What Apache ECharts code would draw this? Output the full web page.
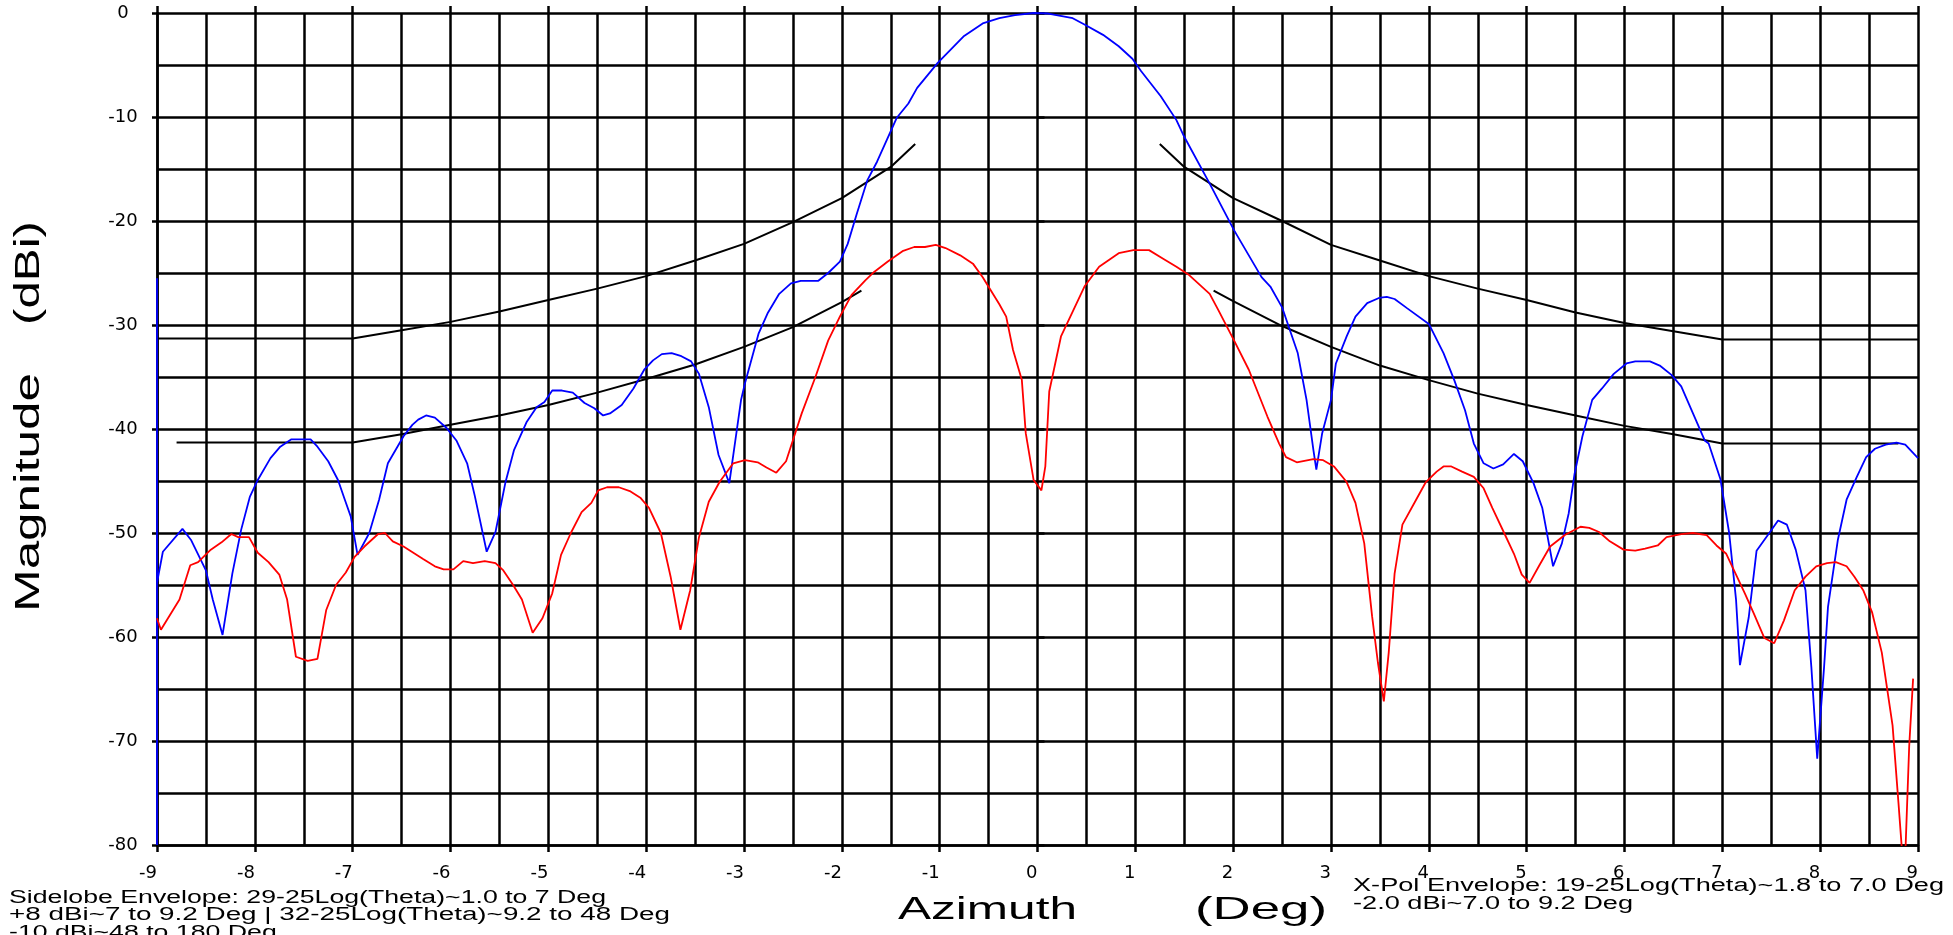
<!DOCTYPE html>
<html>
<head>
<meta charset="utf-8">
<script src="https://cdn.jsdelivr.net/npm/echarts@6/dist/echarts.min.js"></script>
<style>
html,body{margin:0;padding:0;background:#fff;}
#chart{width:1953px;height:935px;}
</style>
</head>
<body>
<div id="chart"></div>
<script>
// ---------------- DATA ----------------
// Co-polar pattern (blue)
const coAz = [-9, -9, -9, -8.94, -8.74, -8.65, -8.50, -8.43, -8.33, -8.23, -8.14, -8.05, -7.97, -7.84, -7.74, -7.63, -7.43, -7.36, -7.25, -7.15, -7.08, -7.02, -6.95, -6.83, -6.73, -6.64, -6.48, -6.39, -6.33, -6.25, -6.16, -6.04, -5.94, -5.83, -5.75, -5.63, -5.54, -5.44, -5.35, -5.22, -5.12, -5.04, -4.96, -4.86, -4.75, -4.63, -4.53, -4.44, -4.37, -4.25, -4.13, -4.02, -3.93, -3.84, -3.74, -3.64, -3.54, -3.46, -3.36, -3.26, -3.15, -3.03, -2.99, -2.85, -2.76, -2.64, -2.52, -2.42, -2.24, -2.14, -2.02, -1.94, -1.85, -1.74, -1.64, -1.54, -1.44, -1.32, -1.23, -1.02, -0.75, -0.56, -0.39, -0.23, -0.04, 0.11, 0.36, 0.48, 0.67, 0.83, 0.97, 1.06, 1.26, 1.42, 1.50, 1.76, 2.01, 2.29, 2.38, 2.50, 2.66, 2.75, 2.82, 2.85, 2.91, 3.00, 3.05, 3.16, 3.25, 3.37, 3.49, 3.57, 3.65, 3.78, 4.00, 4.15, 4.26, 4.37, 4.46, 4.56, 4.66, 4.76, 4.87, 4.96, 5.07, 5.16, 5.27, 5.36, 5.43, 5.49, 5.57, 5.67, 5.77, 5.89, 6.02, 6.11, 6.26, 6.36, 6.48, 6.58, 6.70, 6.82, 6.86, 6.98, 7.07, 7.14, 7.18, 7.27, 7.35, 7.48, 7.57, 7.66, 7.75, 7.85, 7.91, 7.97, 8.04, 8.08, 8.18, 8.27, 8.37, 8.47, 8.56, 8.67, 8.78, 8.87, 9.00];
const coMag = [-80, -25.5, -54.8, -51.8, -49.6, -50.7, -53.6, -56.4, -59.8, -53.9, -49.7, -46.5, -44.9, -42.8, -41.7, -41.0, -41.0, -41.7, -43.1, -44.9, -46.8, -48.4, -52.1, -50.0, -46.8, -43.3, -40.7, -39.6, -39.1, -38.7, -38.9, -39.9, -41.1, -43.3, -46.5, -51.8, -49.9, -45.2, -42.0, -39.3, -37.9, -37.4, -36.3, -36.3, -36.5, -37.5, -38.0, -38.7, -38.5, -37.7, -36.1, -34.3, -33.4, -32.8, -32.7, -33.0, -33.5, -34.7, -37.9, -42.5, -45.2, -37.2, -35.6, -30.8, -28.9, -27.0, -26.0, -25.75, -25.75, -25.0, -23.9, -22.2, -19.4, -16.1, -14.3, -12.2, -10.1, -8.7, -7.2, -4.8, -2.2, -1.0, -0.5, -0.2, 0.0, -0.05, -0.5, -1.1, -2.1, -3.2, -4.4, -5.6, -8.0, -10.3, -11.9, -16.4, -20.9, -25.4, -26.3, -28.3, -32.7, -37.2, -42.0, -43.9, -40.4, -37.2, -33.7, -31.1, -29.2, -27.9, -27.4, -27.3, -27.5, -28.4, -29.9, -32.7, -35.3, -38.2, -41.4, -43.3, -43.8, -43.4, -42.4, -43.1, -45.2, -47.6, -53.2, -51.0, -48.1, -44.3, -40.7, -37.2, -36.1, -34.7, -33.7, -33.5, -33.5, -33.9, -34.8, -35.9, -38.5, -41.1, -41.4, -44.8, -50.0, -56.4, -62.7, -58.1, -51.7, -50.0, -48.8, -49.2, -51.6, -55.5, -62.9, -71.7, -62.9, -57.1, -50.7, -46.8, -44.7, -42.7, -41.9, -41.5, -41.3, -41.5, -42.8];

// Cross-polar pattern (red)
const xpAz = [-9, -8.96, -8.77, -8.66, -8.58, -8.45, -8.34, -8.24, -8.17, -8.06, -7.97, -7.86, -7.75, -7.67, -7.58, -7.46, -7.36, -7.27, -7.17, -7.07, -6.98, -6.88, -6.74, -6.67, -6.59, -6.48, -6.28, -6.16, -6.07, -5.97, -5.87, -5.77, -5.65, -5.54, -5.46, -5.36, -5.27, -5.16, -5.06, -4.96, -4.87, -4.77, -4.66, -4.56, -4.49, -4.40, -4.28, -4.16, -4.06, -3.97, -3.85, -3.75, -3.65, -3.55, -3.46, -3.36, -3.25, -3.11, -2.99, -2.86, -2.77, -2.67, -2.57, -2.49, -2.41, -2.27, -2.14, -2.02, -1.90, -1.76, -1.67, -1.53, -1.38, -1.26, -1.15, -1.04, -0.94, -0.79, -0.66, -0.56, -0.39, -0.32, -0.25, -0.16, -0.12, -0.04, 0.04, 0.08, 0.12, 0.24, 0.35, 0.48, 0.63, 0.83, 0.98, 1.14, 1.28, 1.42, 1.55, 1.76, 1.85, 2.01, 2.16, 2.35, 2.47, 2.54, 2.65, 2.82, 2.92, 3.03, 3.16, 3.25, 3.34, 3.42, 3.48, 3.54, 3.59, 3.65, 3.73, 3.87, 3.97, 4.08, 4.15, 4.23, 4.34, 4.46, 4.56, 4.65, 4.77, 4.87, 4.95, 5.03, 5.13, 5.24, 5.39, 5.55, 5.64, 5.74, 5.85, 5.99, 6.11, 6.21, 6.34, 6.43, 6.58, 6.70, 6.84, 6.94, 7.04, 7.14, 7.23, 7.32, 7.43, 7.53, 7.63, 7.74, 7.85, 7.96, 8.07, 8.16, 8.27, 8.35, 8.44, 8.53, 8.63, 8.74, 8.80, 8.84, 8.87, 8.91, 8.95];
const xpMag = [-58.2, -59.3, -56.4, -53.1, -52.8, -51.6, -50.9, -50.1, -50.4, -50.4, -51.9, -52.8, -54.0, -56.4, -61.9, -62.3, -62.1, -57.4, -55.0, -53.8, -52.3, -51.3, -50.1, -50.0, -50.8, -51.3, -52.5, -53.2, -53.5, -53.5, -52.7, -52.9, -52.7, -52.9, -53.6, -55.0, -56.4, -59.6, -58.2, -55.8, -52.1, -50.0, -48.0, -47.1, -45.9, -45.6, -45.6, -46.0, -46.6, -47.6, -50.0, -54.2, -59.3, -55.5, -50.4, -47.0, -45.1, -43.3, -43.0, -43.2, -43.7, -44.2, -43.1, -40.8, -38.5, -35.0, -31.5, -29.2, -27.1, -25.7, -24.9, -23.9, -22.9, -22.5, -22.5, -22.3, -22.6, -23.3, -24.1, -25.4, -28.0, -29.2, -32.4, -35.3, -40.4, -44.9, -45.9, -43.6, -36.4, -31.1, -28.9, -26.3, -24.4, -23.1, -22.8, -22.8, -23.6, -24.4, -25.2, -27.0, -28.6, -31.5, -34.3, -38.8, -41.4, -42.7, -43.2, -42.9, -43.0, -43.6, -45.1, -47.1, -51.0, -58.0, -62.5, -66.2, -61.5, -53.9, -49.2, -46.8, -45.1, -44.1, -43.6, -43.6, -44.1, -44.6, -45.7, -47.6, -50.0, -52.0, -54.0, -54.8, -53.1, -51.3, -50.2, -49.4, -49.5, -49.9, -50.8, -51.6, -51.7, -51.5, -51.2, -50.4, -50.1, -50.0, -50.2, -51.2, -52.0, -54.0, -55.8, -57.7, -60.1, -60.6, -58.4, -55.5, -54.2, -53.2, -52.9, -52.8, -53.2, -54.2, -55.5, -57.6, -61.5, -68.5, -75.9, -81.0, -81.0, -70.5, -64.0];

// Sidelobe envelope (upper black), left and right parts
const slLeftAz   = [-9, -7, -6.5, -6, -5.5, -5, -4.5, -4, -3.5, -3, -2.5, -2, -1.5, -1.25];
const slLeftMag  = [-31.3, -31.3, -30.5, -29.7, -28.7, -27.6, -26.5, -25.3, -23.8, -22.2, -20.1, -17.8, -14.8, -12.6];
const slRightAz  = [1.25, 1.5, 2, 2.5, 3, 3.5, 4, 4.5, 5, 5.5, 6, 6.5, 7, 9];
const slRightMag = [-12.6, -14.8, -17.8, -20.0, -22.3, -23.8, -25.3, -26.5, -27.6, -28.8, -29.8, -30.6, -31.4, -31.4];

// X-pol envelope (lower black), left and right parts
const xeLeftAz   = [-8.8, -7, -6.5, -6, -5.5, -5, -4.5, -4, -3.5, -3, -2.5, -2, -1.8];
const xeLeftMag  = [-41.3, -41.3, -40.5, -39.6, -38.7, -37.7, -36.5, -35.2, -33.8, -32.1, -30.2, -27.8, -26.7];
const xeRightAz  = [1.8, 2, 2.5, 3, 3.5, 4, 4.5, 5, 5.5, 6, 6.5, 7, 8.8];
const xeRightMag = [-26.7, -27.7, -30.1, -32.1, -33.9, -35.3, -36.6, -37.7, -38.7, -39.7, -40.5, -41.4, -41.4];

// Axis ranges / ticks
const xMin = -9, xMax = 9, xStep = 1;
const yMin = -80, yMax = 0, yStep = 10;

// Texts
const xTitleA = 'Azimuth';
const xTitleB = '(Deg)';
const yTitleA = 'Magnitude';
const yTitleB = '(dBi)';
const noteLeft = [
  'Sidelobe Envelope: 29-25Log(Theta)~1.0 to 7 Deg',
  '+8 dBi~7 to 9.2 Deg | 32-25Log(Theta)~9.2 to 48 Deg',
  '-10 dBi~48 to 180 Deg'
];
const noteRight = [
  'X-Pol Envelope: 19-25Log(Theta)~1.8 to 7.0 Deg',
  '-2.0 dBi~7.0 to 9.2 Deg'
];

// ---------------- BUILD ----------------
function pairs(a, b) { return a.map((v, i) => [v, b[i]]); }

const FONT = '"Liberation Sans", Arial, sans-serif';
const mctx = document.createElement('canvas').getContext('2d');
function fit(text, size, target) {
  mctx.font = size + 'px ' + FONT;
  return target / mctx.measureText(text).width;
}
function txt(text, x, y, size, target, rot, scaleOverride) {
  const s = scaleOverride || fit(text, size, target);
  return {
    type: 'text', x: x, y: y, rotation: rot || 0, scaleX: s, scaleY: 1, silent: true,
    style: {
      text: text, fontSize: size, fontFamily: FONT, fill: '#000',
      align: 'left', textAlign: 'left', verticalAlign: 'middle', textVerticalAlign: 'middle'
    }
  };
}

const chart = echarts.init(document.getElementById('chart'), null, { renderer: 'canvas' });

const black = '#000';
const gridLine = { show: true, lineStyle: { color: black, width: 2.5, type: 'solid' } };
const tickStyle = { color: black, width: 2.5 };

const lineBase = { type: 'line', showSymbol: false, symbol: 'none', silent: true, animation: false, clip: true };

const noteScale = fit(noteLeft[0], 18, 597);

const option = {
  backgroundColor: '#fff',
  animation: false,
  grid: { left: 157, right: 35, top: 13, bottom: 90, containLabel: false },
  xAxis: [
    {
      type: 'value', min: xMin, max: xMax, interval: xStep, position: 'bottom',
      axisLine: { show: true, onZero: false, lineStyle: { color: black, width: 2.5 } },
      axisTick: { show: true, length: 7, lineStyle: tickStyle },
      axisLabel: { show: true, margin: 19, color: black, fontSize: 18, fontFamily: 'DejaVu Sans', align: 'right' },
      splitLine: gridLine,
      minorTick: { show: false, splitNumber: 2 },
      minorSplitLine: gridLine
    },
    {
      type: 'value', min: xMin, max: xMax, interval: xStep, position: 'top',
      axisLine: { show: false },
      axisTick: { show: true, length: 7, lineStyle: tickStyle },
      axisLabel: { show: false },
      splitLine: { show: false }
    }
  ],
  yAxis: [
    {
      type: 'value', min: yMin, max: yMax, interval: yStep, position: 'left',
      axisLine: { show: true, onZero: false, lineStyle: { color: black, width: 2.5 } },
      axisTick: { show: true, length: 5, lineStyle: tickStyle },
      axisLabel: { show: true, margin: 34, color: black, fontSize: 18, fontFamily: 'DejaVu Sans', align: 'center' },
      splitLine: gridLine,
      minorTick: { show: false, splitNumber: 2 },
      minorSplitLine: gridLine
    },
    {
      type: 'value', min: yMin, max: yMax, interval: yStep, position: 'right',
      axisLine: { show: false },
      axisTick: { show: true, length: 7, lineStyle: tickStyle },
      axisLabel: { show: false },
      splitLine: { show: false }
    }
  ],
  series: [
    Object.assign({}, lineBase, { name: 'Sidelobe Envelope L', data: pairs(slLeftAz, slLeftMag), lineStyle: { color: black, width: 2 }, z: 3 }),
    Object.assign({}, lineBase, { name: 'Sidelobe Envelope R', data: pairs(slRightAz, slRightMag), lineStyle: { color: black, width: 2 }, z: 3 }),
    Object.assign({}, lineBase, { name: 'X-Pol Envelope L', data: pairs(xeLeftAz, xeLeftMag), lineStyle: { color: black, width: 2 }, z: 3 }),
    Object.assign({}, lineBase, { name: 'X-Pol Envelope R', data: pairs(xeRightAz, xeRightMag), lineStyle: { color: black, width: 2 }, z: 3 }),
    Object.assign({}, lineBase, { name: 'Co-Pol', data: pairs(coAz, coMag), lineStyle: { color: '#0000ff', width: 1.8 }, z: 4 }),
    Object.assign({}, lineBase, { name: 'X-Pol', data: pairs(xpAz, xpMag), lineStyle: { color: '#ff0000', width: 1.8 }, z: 4 })
  ],
  graphic: [
    txt(xTitleA, 898, 910, 32, 179),
    txt(xTitleB, 1195, 910, 32, 132),
    txt(yTitleA, 29, 612, 35, 239, Math.PI / 2),
    txt(yTitleB, 29, 325, 35, 104, Math.PI / 2),
    txt(noteLeft[0], 9, 898.5, 18, 597),
    txt(noteLeft[1], 9, 915.5, 18, 661),
    txt(noteLeft[2], 9, 933, 18, 0, 0, noteScale),
    txt(noteRight[0], 1353, 886.5, 18, 591),
    txt(noteRight[1], 1353, 904, 18, 280)
  ]
};

chart.setOption(option);
</script>
</body>
</html>
